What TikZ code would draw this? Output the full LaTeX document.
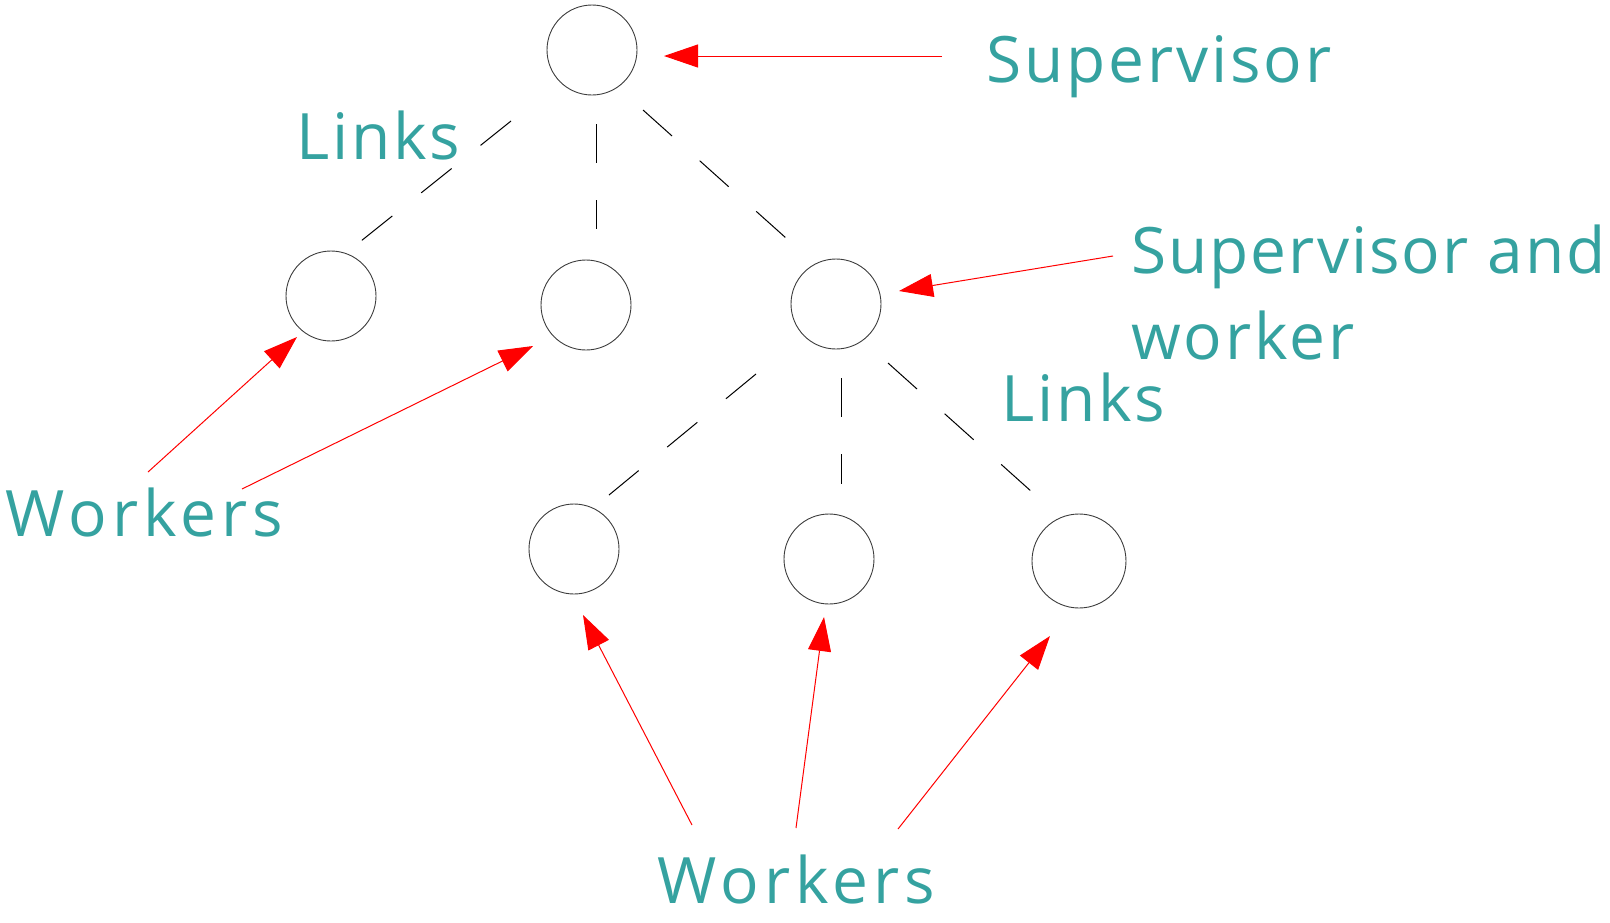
\documentclass[tikz,border=0pt]{standalone}
\usepackage{fontspec}
\setmainfont{Open Sans}
\newfontfamily\tagfont[LetterSpace=4.5]{Open Sans}
\newfontfamily\narrowtagfont[LetterSpace=3.2]{Open Sans}
\newfontfamily\widetagfont[LetterSpace=8]{Open Sans}
\usetikzlibrary{arrows.meta}
\definecolor{labelteal}{RGB}{53,162,160}
\definecolor{ring}{RGB}{60,60,60}
\begin{document}
\begin{tikzpicture}[x=1pt,y=-1pt,
  proc/.style={circle,draw=ring,line width=0.9pt,minimum size=90pt,inner sep=0pt},
  link/.style={draw=black,line width=1pt,dash pattern=on 39pt off 37pt},
  pointer/.style={draw=red,line width=1pt,-{Triangle[length=34pt,width=23pt]}},
  tag/.style={text=labelteal,font=\tagfont\fontsize{64}{86}\selectfont,inner sep=0pt,text depth=0pt,anchor=base west},
  narrowtag/.style={tag,font=\narrowtagfont\fontsize{64}{86}\selectfont},
  widetag/.style={tag,font=\widetagfont\fontsize{64}{86}\selectfont}]
\useasboundingbox (0,0) rectangle (1610,922);

% process tree
\node[proc] (sup) at (592,50) {};
\node[proc] (wa) at (331,296) {};
\node[proc] (wb) at (586,305) {};
\node[proc] (sw) at (836,304) {};
\node[proc] (wc) at (574,549) {};
\node[proc] (wd) at (829,559) {};
\node[proc,minimum size=94pt] (we) at (1079,561) {};

% link end points
\coordinate (l1s) at (511,121); \coordinate (l1e) at (361,241);
\coordinate (l2s) at (596,124); \coordinate (l2e) at (596,229);
\coordinate (l3s) at (643,110); \coordinate (l3e) at (786,238);
\coordinate (l4s) at (756,374); \coordinate (l4e) at (609,495);
\coordinate (l5s) at (841,378); \coordinate (l5e) at (841,484);
\coordinate (l6s) at (888,363); \coordinate (l6e) at (1032,492);

\draw[link] (l1s) -- (l1e);
\draw[link] (l2s) -- (l2e);
\draw[link] (l3s) -- (l3e);
\draw[link] (l4s) -- (l4e);
\draw[link] (l5s) -- (l5e);
\draw[link] (l6s) -- (l6e);

% labels
\node[tag] (tsup) at (986,82) {Supervisor};
\node[narrowtag] (tsw) at (1131,273) {Supervisor and};
\node[tag] (tsw2) at (1131,359) {worker};
\node[tag] (tlinks1) at (296,159) {Links};
\node[tag] (tlinks2) at (1001,421) {Links};
\node[widetag] (twl) at (5,536) {Workers};
\node[widetag] (twb) at (657,903) {Workers};

% pointer arrows
\coordinate (p1s) at (942,56);  \coordinate (p1e) at (664,56);
\coordinate (p2s) at (1113,256); \coordinate (p2e) at (899,291);
\coordinate (p3s) at (148,472); \coordinate (p3e) at (297,337);
\coordinate (p4s) at (242,489); \coordinate (p4e) at (533,346);
\coordinate (p5s) at (692,825); \coordinate (p5e) at (583,615);
\coordinate (p6s) at (796,828); \coordinate (p6e) at (824,617);
\coordinate (p7s) at (898,829); \coordinate (p7e) at (1050,636);

\draw[pointer] (p1s) -- (p1e);
\draw[pointer] (p2s) -- (p2e);
\draw[pointer] (p3s) -- (p3e);
\draw[pointer] (p4s) -- (p4e);
\draw[pointer] (p5s) -- (p5e);
\draw[pointer] (p6s) -- (p6e);
\draw[pointer] (p7s) -- (p7e);
\end{tikzpicture}
\end{document}
